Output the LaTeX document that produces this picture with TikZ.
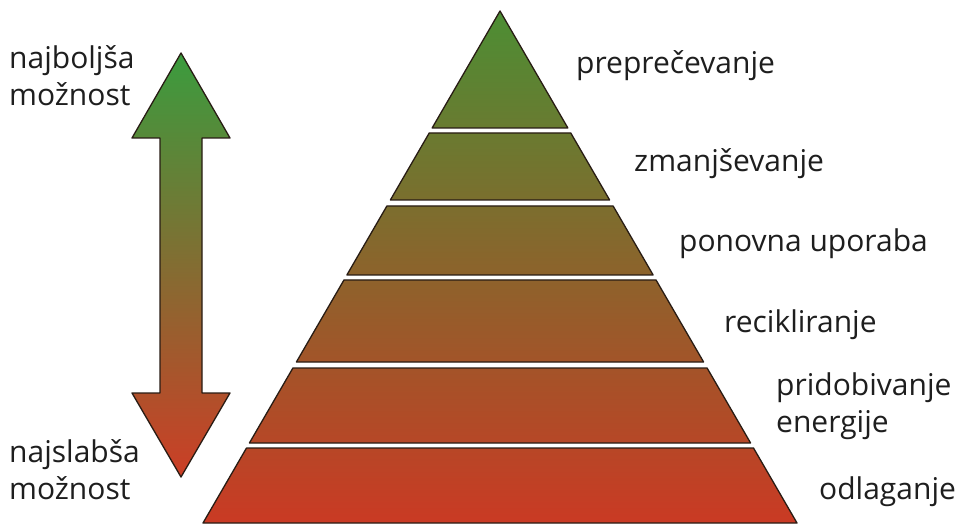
\documentclass[tikz,border=0pt]{standalone}
\usepackage{fontspec}
\setmainfont{Open Sans}
\usetikzlibrary{calc}
\definecolor{pyrtop}{RGB}{76,142,52}
\definecolor{pyrbot}{RGB}{202,58,36}
\definecolor{arrtop}{RGB}{58,156,62}
\definecolor{arrbot}{RGB}{204,62,38}
\definecolor{outl}{RGB}{40,28,20}
\definecolor{txt}{RGB}{30,30,30}
\tikzset{
  lbl/.style={anchor=base west, inner sep=0pt, text=txt, align=left,
    font=\fontsize{30}{37}\selectfont},
  shape edge/.style={draw=outl, line width=1.3pt, line join=round},
}
\newcommand\pyrlayer[2]{%
  \pgfmathsetmacro\ta{(#1-11)/512}%
  \pgfmathsetmacro\tb{(#2-11)/512}%
  \pgfmathsetmacro\pa{100*\ta}%
  \pgfmathsetmacro\pb{100*\tb}%
  \colorlet{lyrA}{pyrbot!\pa!pyrtop}%
  \colorlet{lyrB}{pyrbot!\pb!pyrtop}%
  \shade[top color=lyrA, bottom color=lyrB, shape edge]
    ($(apex)!\ta!(bl)$) -- ($(apex)!\ta!(br)$) -- ($(apex)!\tb!(br)$) -- ($(apex)!\tb!(bl)$) -- cycle;
}
\begin{document}
\begin{tikzpicture}[x=1pt,y=-1pt]
\useasboundingbox (0,0) rectangle (960,526);
\coordinate (apex) at (500,11);
\coordinate (bl) at (203,523);
\coordinate (br) at (797,523);
% top triangle
\pgfmathsetmacro\tb{(128-11)/512}
\pgfmathsetmacro\pb{100*\tb}
\colorlet{lyrB}{pyrbot!\pb!pyrtop}
\shade[top color=pyrtop, bottom color=lyrB, shape edge]
  (apex) -- ($(apex)!\tb!(br)$) -- ($(apex)!\tb!(bl)$) -- cycle;
\pyrlayer{133}{200}
\pyrlayer{206}{275}
\pyrlayer{280}{362}
\pyrlayer{368}{443}
\pyrlayer{448}{523}
% double arrow
\shade[top color=arrtop, bottom color=arrbot, shape edge]
  (181,53) -- (230,138) -- (202,138) -- (202,393) -- (230,393) -- (181,477)
  -- (132,393) -- (160,393) -- (160,138) -- (132,138) -- cycle;
% labels
\node[lbl] (l1) at (576,74) {preprečevanje};
\node[lbl] (l2) at (634,172) {zmanjševanje};
\node[lbl] (l3) at (679,252) {ponovna uporaba};
\node[lbl] (l4) at (724,332) {recikliranje};
\node[lbl] (l5) at (776,432) {pridobivanje\\energije};
\node[lbl] (l6) at (819,499) {odlaganje};
\node[lbl] (best) at (9,106) {najboljša\\možnost};
\node[lbl] (worst) at (9,499) {najslabša\\možnost};
\end{tikzpicture}
\end{document}
